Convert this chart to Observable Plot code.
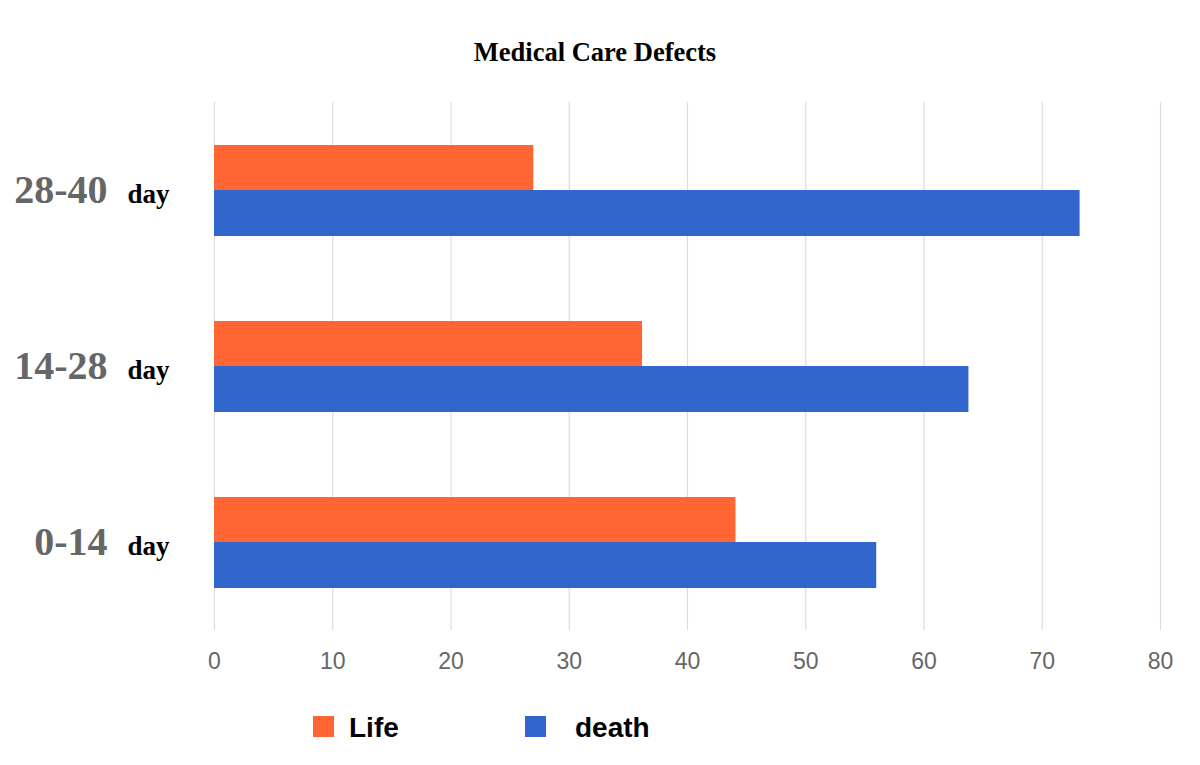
<!DOCTYPE html>
<html>
<head>
<meta charset="utf-8">
<script src="https://cdn.jsdelivr.net/npm/d3@7"></script>
<script src="https://cdn.jsdelivr.net/npm/@observablehq/plot@0.6"></script>
<style>
  html, body { margin: 0; padding: 0; background: #fff; }
  #wrap { position: relative; width: 1200px; height: 765px; overflow: hidden; }
  #title { position: absolute; left: 0; width: 1190px; top: 38px; text-align: center;
    font-family: "Liberation Serif", "Times New Roman", serif; font-weight: bold; font-size: 26.5px; line-height: 28px; color: #000; }
  #chart { position: absolute; left: 0; top: 80px; }
  #legend { position: absolute; left: 0; top: 0; width: 1200px; height: 765px; pointer-events: none; }
  .sw { position: absolute; width: 21px; height: 21px; }
  .lab { position: absolute; font-family: "Liberation Sans", Arial, sans-serif; font-weight: bold; font-size: 28px; color: #000; line-height: 1; }
  #chart g[aria-label^="x-axis"] text { font-family: "Liberation Sans", Arial, sans-serif; font-size: 23px; fill: #666; }
</style>
</head>
<body>
<div id="wrap">
  <div id="title"></div>
  <div id="chart"></div>
  <div id="legend"></div>
</div>
<script>
const title = "Medical Care Defects";
const groups = ["28-40", "14-28", "0-14"];
const groupSuffix = "day";
const seriesNames = ["Life", "death"];
const lifeValues = [27, 36.2, 44.1];
const deathValues = [73.2, 63.8, 56];
const seriesColors = ["#FF6633", "#3366CC"];
const xTicks = [0, 10, 20, 30, 40, 50, 60, 70, 80];

document.getElementById("title").textContent = title;

const lifeData = groups.map((g, i) => ({group: g, value: lifeValues[i]}));
const deathData = groups.map((g, i) => ({group: g, value: deathValues[i]}));

const plot = Plot.plot({
  width: 1200,
  height: 610,
  marginLeft: 214,
  marginRight: 40,
  marginTop: 22,
  marginBottom: 60,
  style: {background: "#fff", overflow: "visible"},
  x: {domain: [0, 80], ticks: xTicks, tickSize: 0, tickPadding: 22, label: null},
  y: {domain: groups, padding: 0, axis: null},
  marks: [
    Plot.ruleX(xTicks, {stroke: "#dcdcdc", strokeWidth: 1.2}),
    Plot.barX(lifeData, {x: "value", y: "group", fill: seriesColors[0], insetTop: 43, insetBottom: 88}),
    Plot.barX(deathData, {x: "value", y: "group", fill: seriesColors[1], insetTop: 88, insetBottom: 42}),
    Plot.text(groups, {y: d => d, text: d => d, frameAnchor: "left", textAnchor: "end", dx: -107, dy: 0,
      fontSize: 40, fontWeight: "bold", fontFamily: "Liberation Serif, Times New Roman, serif", fill: "#666"}),
    Plot.text(groups, {y: d => d, text: () => groupSuffix, frameAnchor: "left", textAnchor: "start", dx: -87, dy: 4,
      fontSize: 27, fontWeight: "bold", fontFamily: "Liberation Serif, Times New Roman, serif", fill: "#000"})
  ]
});
document.getElementById("chart").appendChild(plot);

const legend = document.getElementById("legend");
const legendPos = [{sw: 313, lab: 349}, {sw: 525, lab: 575}];
seriesNames.forEach((name, i) => {
  const sw = document.createElement("div");
  sw.className = "sw";
  sw.style.left = legendPos[i].sw + "px";
  sw.style.top = "716px";
  sw.style.background = seriesColors[i];
  legend.appendChild(sw);
  const lab = document.createElement("div");
  lab.className = "lab";
  lab.style.left = legendPos[i].lab + "px";
  lab.style.top = "714px";
  lab.textContent = name;
  legend.appendChild(lab);
});
</script>
</body>
</html>
